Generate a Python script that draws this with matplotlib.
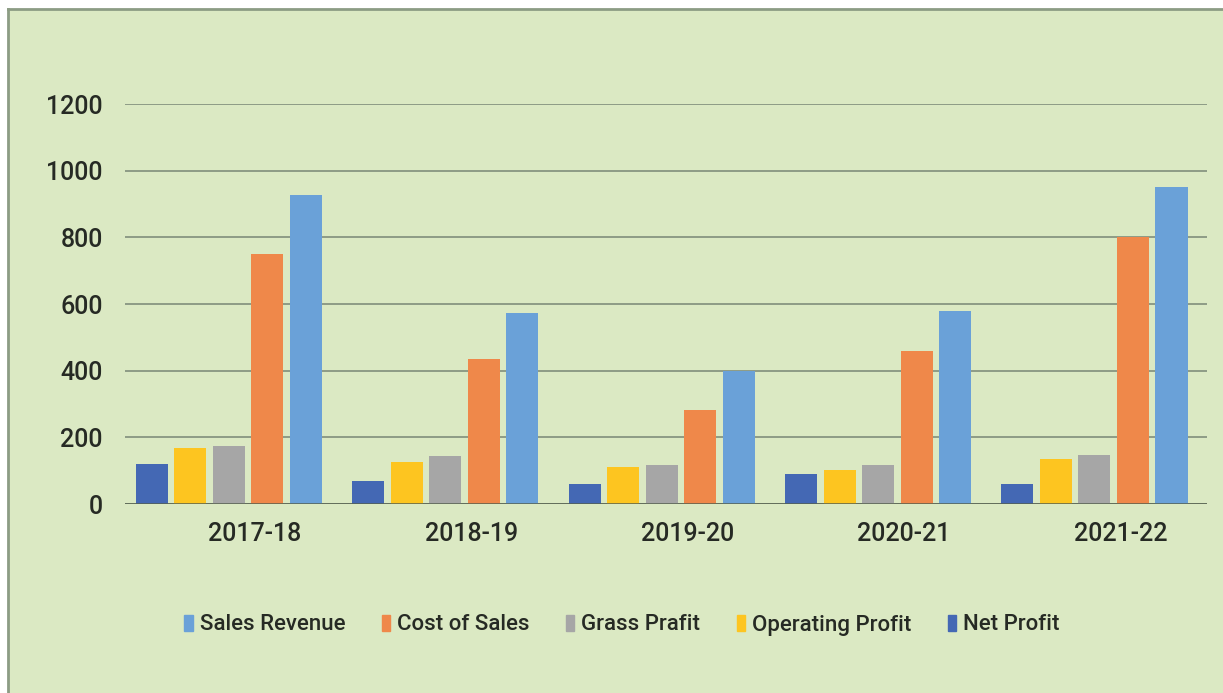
import matplotlib
matplotlib.use("Agg")
import matplotlib.pyplot as plt
import matplotlib.transforms as mtransforms
import numpy as np
from matplotlib.patches import Rectangle, Patch
from matplotlib.lines import Line2D

years = ["2017-18", "2018-19", "2019-20", "2020-21", "2021-22"]
net_profit = [120, 70, 60, 90, 60]
operating_profit = [168, 126, 110, 102, 135]
gross_profit = [175, 143, 117, 118, 148]
cost_of_sales = [750, 435, 283, 458, 802]
sales_revenue = [928, 572, 400, 580, 950]

series_names = ["Net Profit", "Operating Profit", "Grass Prafit", "Cost of Sales", "Sales Revenue"]
series_values = [net_profit, operating_profit, gross_profit, cost_of_sales, sales_revenue]
colors = ["#4468b4", "#fdc520", "#a6a6a6", "#ef884a", "#6aa1d8"]

plt.rcParams['font.family'] = ['Roboto', 'DejaVu Sans']
plt.rcParams['font.weight'] = 'medium'

W, H = 1223, 693
bg = "#dbe9c3"
txt = "#262a24"
border = "#8c9c84"
fig = plt.figure(figsize=(W / 100, H / 100), dpi=100, facecolor=bg)
# white margin strips at top and left, with border lines
fig.patches.append(Rectangle((0, 1 - 9 / H), 1, 9 / H, transform=fig.transFigure,
                             facecolor="white", edgecolor="none", zorder=-5))
fig.patches.append(Rectangle((0, 0), 8 / W, 1, transform=fig.transFigure,
                             facecolor="white", edgecolor="none", zorder=-5))
fig.lines.append(Line2D([8 / W, 1], [1 - 9 / H, 1 - 9 / H], transform=fig.transFigure,
                        color=border, linewidth=2, zorder=-4))
fig.lines.append(Line2D([8 / W, 8 / W], [0, 1 - 9 / H], transform=fig.transFigure,
                        color=border, linewidth=2, zorder=-4))

ax = fig.add_axes([125 / W, 1 - 504 / H, (1207 - 125) / W, 400 / H])
ax.patch.set_alpha(0)

x = np.arange(len(years))
pitch = 0.178
width = 0.148
for i, (name, vals, c) in enumerate(zip(series_names, series_values, colors)):
    ax.bar(x + (i - 2) * pitch, vals, width, color=c, label=name, zorder=3)

ax.set_xlim(-0.48, len(years) - 0.48)
ax.set_ylim(0, 1200)
ax.set_yticks(range(0, 1201, 200))
ax.yaxis.grid(True, color="#8d9b86", linewidth=1.4, zorder=0)
ax.axhline(0, color="#55604f", linewidth=1.8, zorder=4)
for s in ax.spines.values():
    s.set_visible(False)
ax.tick_params(axis="both", length=0, labelsize=18, colors=txt)
ax.tick_params(axis="y", pad=16)
ax.tick_params(axis="x", pad=13)
ax.set_xticks(x)
ax.set_xticklabels(years)
offset = mtransforms.ScaledTranslation(26 / 100, 0, fig.dpi_scale_trans)
for lab in ax.get_xticklabels():
    lab.set_transform(lab.get_transform() + offset)

handles = [Patch(color=c, label=n) for n, c in zip(series_names, colors)][::-1]
fig.legend(handles=handles, loc="center", bbox_to_anchor=(622 / W, 1 - 625 / H), ncol=5,
           frameon=False, fontsize=16, labelcolor=txt, handlelength=0.38, handleheight=0.7,
           handletextpad=0.3, columnspacing=1.65)

fig.savefig("out.png", dpi=100, facecolor=bg)
